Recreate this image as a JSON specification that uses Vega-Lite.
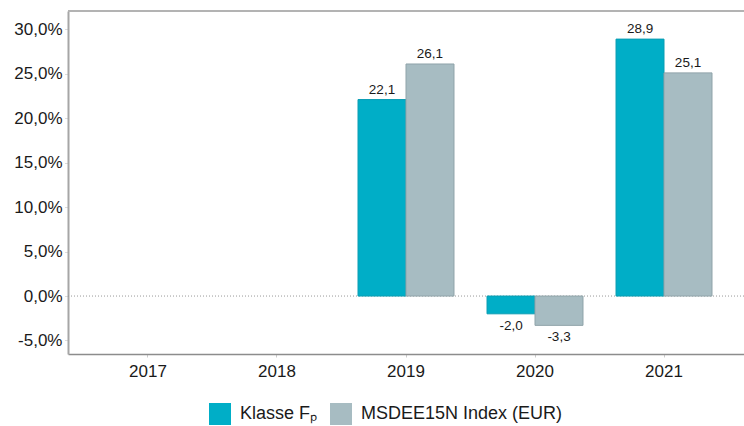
{
  "$schema": "https://vega.github.io/schema/vega-lite/v6.json",
  "autosize": {"type": "none"},
  "padding": {"left": 68, "top": 11, "right": 0, "bottom": 72},
  "width": 676,
  "height": 343,
  "background": "white",
  "config": {
    "font": "Liberation Sans",
    "view": {"stroke": null},
    "locale": {"number": {"decimal": ",", "thousands": ".", "grouping": [3], "currency": ["", " €"], "minus": "-"}}
  },
  "data": {
    "values": [
      {"year": "2019", "series": "Klasse Fₚ", "value": 22.1},
      {"year": "2019", "series": "MSDEE15N Index (EUR)", "value": 26.1},
      {"year": "2020", "series": "Klasse Fₚ", "value": -2.0},
      {"year": "2020", "series": "MSDEE15N Index (EUR)", "value": -3.3},
      {"year": "2021", "series": "Klasse Fₚ", "value": 28.9},
      {"year": "2021", "series": "MSDEE15N Index (EUR)", "value": 25.1}
    ]
  },
  "encoding": {
    "x": {
      "field": "year", "type": "nominal",
      "scale": {"domain": ["2017", "2018", "2019", "2020", "2021"], "paddingInner": 0.256, "paddingOuter": 0.248},
      "axis": {"title": null, "labelAngle": 0, "labelFontSize": 17, "labelColor": "#1a1a1a", "labelPadding": 6, "domainColor": "#8c8c8c", "domainWidth": 1.5, "tickColor": "#cccccc", "tickSize": 3, "grid": false}
    },
    "xOffset": {"field": "series", "type": "nominal", "scale": {"domain": ["Klasse Fₚ", "MSDEE15N Index (EUR)"], "paddingInner": 0, "paddingOuter": 0}},
    "y": {
      "field": "value", "type": "quantitative",
      "scale": {"domain": [-6.52, 32.06], "nice": false, "zero": false},
      "axis": {"title": null, "values": [-5, 0, 5, 10, 15, 20, 25, 30], "format": ".1f", "labelExpr": "datum.label + '%'", "labelFontSize": 17, "labelColor": "#1a1a1a", "labelPadding": 3, "domainColor": "#a6a6a6", "domainWidth": 2, "tickColor": "#bbbbbb", "tickSize": 3, "tickDash": [1, 1], "grid": false}
    }
  },
  "layer": [
    {
      "mark": {"type": "rule", "color": "#999999", "strokeDash": [1, 2], "strokeWidth": 1},
      "data": {"values": [{"level": 0}]},
      "encoding": {"x": null, "xOffset": null, "y": {"field": "level", "type": "quantitative"}}
    },
    {
      "mark": {"type": "rule", "color": "#b3b3b3", "strokeWidth": 2},
      "data": {"values": [{"level": 32.06}]},
      "encoding": {"x": null, "xOffset": null, "y": {"field": "level", "type": "quantitative"}}
    },
    {
      "mark": {"type": "bar", "strokeWidth": 1},
      "encoding": {
        "color": {
          "field": "series", "type": "nominal",
          "scale": {"domain": ["Klasse Fₚ", "MSDEE15N Index (EUR)"], "range": ["#00AEC7", "#A7BCC2"]},
          "legend": {"title": null, "orient": "none", "legendX": 141, "legendY": 392, "direction": "horizontal", "symbolType": "square", "symbolSize": 484, "symbolStrokeWidth": 0, "labelFontSize": 18, "labelColor": "#1a1a1a", "labelLimit": 400, "columnPadding": 12, "labelOffset": 9}
        },
        "stroke": {
          "field": "series", "type": "nominal",
          "scale": {"domain": ["Klasse Fₚ", "MSDEE15N Index (EUR)"], "range": ["#0a9db3", "#8fa3a9"]},
          "legend": null
        }
      }
    },
    {
      "transform": [{"filter": "datum.value >= 0"}],
      "mark": {"type": "text", "baseline": "bottom", "dy": -3, "fontSize": 13.5, "color": "#1a1a1a"},
      "encoding": {"text": {"field": "value", "type": "quantitative", "format": ".1f"}}
    },
    {
      "transform": [{"filter": "datum.value < 0"}],
      "mark": {"type": "text", "baseline": "top", "dy": 5, "fontSize": 13.5, "color": "#1a1a1a"},
      "encoding": {"text": {"field": "value", "type": "quantitative", "format": ".1f"}}
    }
  ]
}
